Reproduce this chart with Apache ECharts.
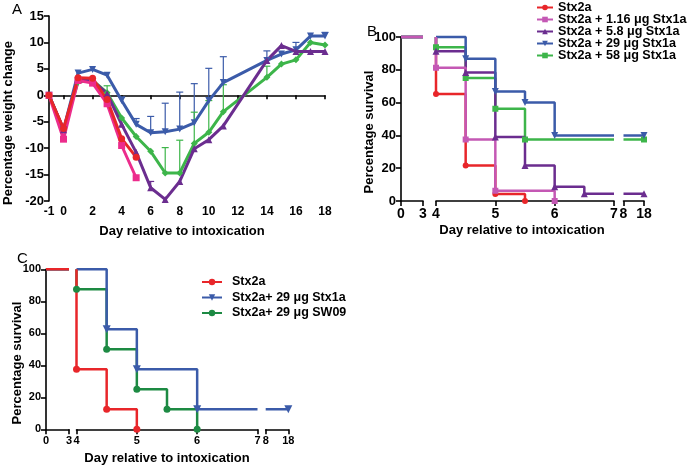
<!DOCTYPE html>
<html><head><meta charset="utf-8">
<script src="https://cdn.jsdelivr.net/npm/echarts@6/dist/echarts.min.js"></script>
<style>html,body{margin:0;padding:0;background:#fff}#c{width:698px;height:467px}</style>
</head><body><div id="c"></div>
<script>
// ---------- Panel A: percentage weight change [day, value] ----------
const weightStx2a      = [[-1,0],[0,-6.3],[1,3.3],[2,3.2],[3,-0.8],[4,-8.2],[5,-11.7]];
const weight116Stx1a   = [[-1,0],[0,-8.3],[1,2.8],[2,2.3],[3,-1.6],[4,-9.5],[5,-15.6]];
const weight58Stx1a    = [[-1,0],[0,-6.5],[1,3.0],[2,2.8],[3,0.3],[4,-5.5],[5,-10.8],[6,-17.5],[7,-19.7],[8,-16.3],[9,-10.1],[10,-8.4],[11,-5.8],[14,6.6],[15,9.4],[16,8.3],[17,8.3],[18,8.3]];
const weight29Stx1a    = [[-1,0],[0,-6.5],[1,4.2],[2,4.9],[3,3.8],[4,-1.0],[5,-5.5],[6,-7.1],[7,-6.9],[8,-6.4],[9,-5.2],[10,-1.0],[11,2.4],[14,6.6],[15,7.8],[16,8.6],[17,11.2],[18,11.2]];
const weight58gStx1a   = [[-1,0],[0,-6.5],[1,2.5],[2,2.8],[3,0.5],[4,-4.3],[5,-7.8],[6,-10.6],[7,-14.7],[8,-14.7],[9,-9.1],[10,-7.0],[11,-3.1],[14,3.4],[15,5.9],[16,6.7],[17,10.0],[18,9.5]];
// upper error bar ends [day, top]
const err29Stx1a  = [[4,-0.3],[5,-4.4],[6,-4.0],[7,-1.5],[8,0.6],[9,2.2],[10,5.1],[11,7.3],[14,8.4],[16,10.0],[18,11.9]];
const err58gStx1a = [[3,1.8],[7,-9.9],[8,-8.5],[9,-3.2],[10,-1.0],[11,2.0],[14,5.5]];
const err58Stx1a  = [[6,-16.3]];
const weightXTicks = [-1,0,2,4,6,8,10,12,14,16,18];

// ---------- Panel B: survival events [day, percent] ----------
const survBStx2a    = [[4,65.2],[4.5,21.7],[5,4.3],[5.5,0]];
const survB116Stx1a = [[4,81.25],[4.5,37.5],[5,6.25],[6,0]];
const survB58Stx1a  = [[4,91.3],[4.5,78.3],[5,39.1],[5.5,21.7],[6,8.7],[6.5,4.35],[18,4.35]];
const survB29Stx1a  = [[4.5,86.7],[5,66.7],[5.5,60],[6,40],[18,40]];
const survB58gStx1a = [[4,93.75],[4.5,75],[5,56.25],[5.5,37.5],[18,37.5]];

// ---------- Panel C: survival events ----------
const survCStx2a   = [[4,37.5],[4.5,12.5],[5,0]];
const survC29Stx1a = [[4.5,62.5],[5,37.5],[6,12.5],[18,12.5]];
const survC29SW09  = [[4,87.5],[4.5,50],[5,25],[5.5,12.5],[6,0]];

// broken survival axis segments and their tick labels
const survSegments = [[0,3],[4,7],[8,18]];
const survSegTicks = [[0,3],[4,5,6,7],[8,18]];
const survYTicks = [0,20,40,60,80,100];

const namesB = ['Stx2a','Stx2a + 1.16 μg Stx1a','Stx2a + 5.8 μg Stx1a','Stx2a + 29 μg Stx1a','Stx2a + 58 μg Stx1a'];
const namesC = ['Stx2a','Stx2a+ 29 μg Stx1a','Stx2a+ 29 μg SW09'];

const FONT = '"Liberation Sans", Arial, Helvetica, sans-serif';
const RED='#e8262a', PINK='#ec2c8c', MAG='#c458b4', PURP='#6b2d8f', BLUE='#3b5ba9', GREEN='#3db54a', DGREEN='#1d8a43';

function kmSegment(events, a, b) {
  let start = 100;
  events.forEach(([x,y]) => { if (x < a) start = y; });
  if (start <= 0) return [];
  const data = [{value:[a,start], symbol:'none'}];
  let last = start;
  events.forEach(([x,y]) => { if (x >= a && x <= b) { data.push([x,y]); last = y; } });
  const later = events.some(([x]) => x > b);
  if (later && last > 0) data.push({value:[b,last], symbol:'none'});
  return data;
}

const grids = [], xAxes = [], yAxes = [], series = [];
const axisLine = {show:true, onZero:false, lineStyle:{color:'#000', width:1.6}};
const axisTick = (len) => ({show:true, length:len, lineStyle:{color:'#000', width:1.6}});

// Grid 0: panel A
grids.push({left:49, top:16, width:276, height:185});
xAxes.push({type:'value', gridIndex:0, min:-1, max:18,
  axisLine:{show:true, onZero:true, lineStyle:{color:'#000', width:1.6}},
  axisTick:Object.assign(axisTick(4), {customValues:weightXTicks}),
  axisLabel:{customValues:weightXTicks, fontSize:12, fontWeight:'bold', color:'#000', margin:5, fontFamily:FONT},
  splitLine:{show:false}});
yAxes.push({type:'value', gridIndex:0, min:-20, max:15, interval:5,
  axisLine:axisLine, axisTick:axisTick(5),
  axisLabel:{fontSize:13, fontWeight:'bold', color:'#000', margin:5, fontFamily:FONT},
  splitLine:{show:false}});

// Panel B grids (1..3), Panel C grids (4..6)
const segBox = {
  B: {top:37, height:164, segs:[[401,22],[436,178],[623.5,20.5]], xFont:14, yFont:13},
  C: {top:269.3, height:160, segs:[[46,23],[76.5,181],[265.7,22.6]], xFont:11, yFont:11}
};
['B','C'].forEach(p => {
  const box = segBox[p];
  box.segs.forEach(([l,w], i) => {
    const gi = grids.length;
    grids.push({left:l, top:box.top, width:w, height:box.height});
    xAxes.push({type:'value', gridIndex:gi, min:survSegments[i][0], max:survSegments[i][1],
      axisLine:axisLine,
      axisTick:Object.assign(axisTick(5), {customValues:survSegTicks[i]}),
      axisLabel:{customValues:survSegTicks[i], fontSize:box.xFont, fontWeight:'bold', color:'#000', margin:6, fontFamily:FONT},
      splitLine:{show:false}});
    yAxes.push({type:'value', gridIndex:gi, min:0, max:100, interval:20, show: i===0,
      axisLine:axisLine, axisTick:axisTick(5),
      axisLabel:{fontSize:box.yFont, fontWeight:'bold', color:'#000', margin:5, fontFamily:FONT},
      splitLine:{show:false}});
  });
});

// Panel A error bars
function errSeries(name, line, errs, color) {
  const lookup = d => (line.find(p => p[0] === d) || [d,0])[1];
  return {type:'custom', name:name, xAxisIndex:0, yAxisIndex:0, z:1, silent:true,
    data: errs.map(([d,t]) => [d, lookup(d), t]),
    renderItem: (params, api) => {
      const p0 = api.coord([api.value(0), api.value(1)]);
      const p1 = api.coord([api.value(0), api.value(2)]);
      const st = {stroke:color, lineWidth:1.2};
      return {type:'group', children:[
        {type:'line', shape:{x1:p0[0],y1:p0[1],x2:p1[0],y2:p1[1]}, style:st},
        {type:'line', shape:{x1:p1[0]-3.5,y1:p1[1],x2:p1[0]+3.5,y2:p1[1]}, style:st}
      ]};
    }};
}
series.push(errSeries('err29', weight29Stx1a, err29Stx1a, BLUE));
series.push(errSeries('err58g', weight58gStx1a, err58gStx1a, GREEN));
series.push(errSeries('err58', weight58Stx1a, err58Stx1a, PURP));

const aSpecs = [
  ['Weight: Stx2a + 58 μg Stx1a', weight58gStx1a, GREEN, 'diamond', 0],
  ['Weight: Stx2a + 29 μg Stx1a', weight29Stx1a, BLUE, 'triangle', 180],
  ['Weight: Stx2a + 5.8 μg Stx1a', weight58Stx1a, PURP, 'triangle', 0],
  ['Weight: Stx2a + 1.16 μg Stx1a', weight116Stx1a, PINK, 'rect', 0],
  ['Weight: Stx2a', weightStx2a, RED, 'circle', 0]
];
aSpecs.forEach(([n, d, c, s, r]) => series.push({type:'line', name:n, xAxisIndex:0, yAxisIndex:0, z:3,
  data:d, color:c, symbol:s, symbolRotate:r, symbolSize:7, showAllSymbol:true,
  lineStyle:{width:3, color:c}, itemStyle:{color:c}, clip:false}));

function kmSeries(name, events, color, symbol, rot, size, width, base) {
  survSegments.forEach(([a,b], i) => {
    series.push({type:'line', name:name, xAxisIndex:base+i, yAxisIndex:base+i, step:'end',
      data:kmSegment(events, a, b), color:color, symbol:symbol, symbolRotate:rot, symbolSize:size,
      showAllSymbol:true, lineStyle:{width:width, color:color}, itemStyle:{color:color}, clip:false, z:3});
  });
}
// Panel B (draw order)
kmSeries(namesB[0], survBStx2a, RED, 'circle', 0, 6, 2.5, 1);
kmSeries(namesB[4], survB58gStx1a, GREEN, 'rect', 0, 6, 2.5, 1);
kmSeries(namesB[2], survB58Stx1a, PURP, 'triangle', 0, 7, 2.5, 1);
kmSeries(namesB[3], survB29Stx1a, BLUE, 'triangle', 180, 7, 2.5, 1);
kmSeries(namesB[1], survB116Stx1a, MAG, 'rect', 0, 6, 2.5, 1);
// Panel C
kmSeries(namesC[2], survC29SW09, DGREEN, 'circle', 0, 7, 2.5, 4);
kmSeries(namesC[1], survC29Stx1a, BLUE, 'triangle', 180, 8, 2.5, 4);
kmSeries(namesC[0], survCStx2a, RED, 'circle', 0, 7, 2.5, 4);

const boldTxt = (t, x, y, rot, size) => ({type:'text', x:x, y:y, rotation:rot||0,
  style:{text:t, font:'bold '+(size||13)+'px '+FONT, fill:'#000', align:'center', verticalAlign:'middle'}});
const panelTxt = (t, x, y) => ({type:'text', x:x, y:y,
  style:{text:t, font:'15px '+FONT, fill:'#000', align:'left', verticalAlign:'top'}});

const option = {
  animation:false,
  backgroundColor:'#fff',
  textStyle:{fontFamily:FONT},
  grid:grids, xAxis:xAxes, yAxis:yAxes, series:series,
  legend:[
    {data:namesB, orient:'vertical', left:536, top:1, padding:0, itemWidth:16, itemHeight:7, itemGap:-1,
     selectedMode:false, textStyle:{fontSize:12.6, fontWeight:'bold', color:'#000', lineHeight:12, fontFamily:FONT}},
    {data:namesC, orient:'vertical', left:201, top:275.5, padding:0, itemWidth:20, itemHeight:8, itemGap:2.5,
     selectedMode:false, textStyle:{fontSize:12.5, fontWeight:'bold', color:'#000', lineHeight:13, padding:[0,0,0,5], fontFamily:FONT}}
  ],
  graphic:[
    panelTxt('A', 12, 2), panelTxt('B', 367, 24), panelTxt('C', 17, 251),
    boldTxt('Percentage weight change', 8, 123, Math.PI/2),
    boldTxt('Day relative to intoxication', 182, 231),
    boldTxt('Percentage survival', 369, 132, Math.PI/2),
    boldTxt('Day relative to intoxication', 522, 230),
    boldTxt('Percentage survival', 17, 363, Math.PI/2),
    boldTxt('Day relative to intoxication', 167, 458)
  ]
};
echarts.init(document.getElementById('c'), null, {renderer:'canvas'}).setOption(option);
</script></body></html>
